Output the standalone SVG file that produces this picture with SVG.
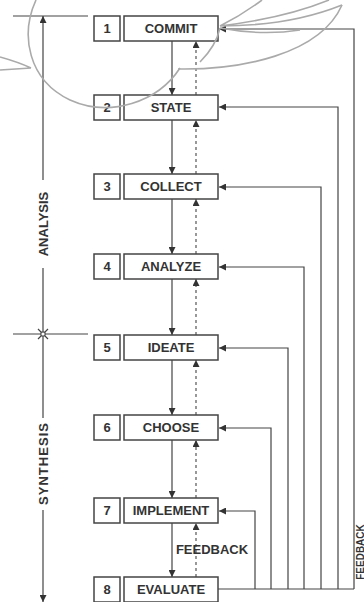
<svg xmlns="http://www.w3.org/2000/svg" width="364" height="602" viewBox="0 0 364 602">
<style>
.box{fill:#fff;stroke:#444;stroke-width:1.5}
.t{font-family:"Liberation Sans",Arial,sans-serif;font-weight:bold;font-size:13px;fill:#333;text-anchor:middle}
.ln{fill:none;stroke:#444;stroke-width:1.2}
.dash{fill:none;stroke:#555;stroke-width:1.2;stroke-dasharray:3,3}
.wm{fill:none;stroke:#aaa;stroke-width:1.6}
</style>
<defs>
<marker id="ah" viewBox="0 0 10 10" refX="10" refY="5" markerWidth="7" markerHeight="7" markerUnits="userSpaceOnUse" orient="auto">
<path d="M0,0 L10,5 L0,10 z" fill="#333"/>
</marker>
</defs>
<rect width="364" height="602" fill="#fff"/>
<g id="connectors">
<path class="ln" marker-end="url(#ah)" d="M172,41 V95"/>
<path class="ln" marker-end="url(#ah)" d="M172,120 V174"/>
<path class="ln" marker-end="url(#ah)" d="M172,199 V254"/>
<path class="ln" marker-end="url(#ah)" d="M172,279 V335"/>
<path class="ln" marker-end="url(#ah)" d="M172,360 V415"/>
<path class="ln" marker-end="url(#ah)" d="M172,440 V498"/>
<path class="ln" marker-end="url(#ah)" d="M172,523 V577"/>
<path class="dash" marker-end="url(#ah)" d="M196,95 V41"/>
<path class="dash" marker-end="url(#ah)" d="M196,174 V120"/>
<path class="dash" marker-end="url(#ah)" d="M196,254 V199"/>
<path class="dash" marker-end="url(#ah)" d="M196,335 V279"/>
<path class="dash" marker-end="url(#ah)" d="M196,415 V360"/>
<path class="dash" marker-end="url(#ah)" d="M196,498 V440"/>
<path class="dash" marker-end="url(#ah)" d="M196,577 V523"/>
<path class="ln" d="M218,589 H354"/>
<path class="ln" marker-end="url(#ah)" d="M354,589 V29 H219"/>
<path class="ln" marker-end="url(#ah)" d="M338,589 V107 H219"/>
<path class="ln" marker-end="url(#ah)" d="M321,589 V187 H219"/>
<path class="ln" marker-end="url(#ah)" d="M304,589 V267 H219"/>
<path class="ln" marker-end="url(#ah)" d="M288,589 V348 H219"/>
<path class="ln" marker-end="url(#ah)" d="M271,589 V428 H219"/>
<path class="ln" marker-end="url(#ah)" d="M255,589 V511 H219"/>
<path class="ln" d="M13,16 H88"/>
<path class="ln" d="M13,334 H88"/>
<path class="ln" marker-end="url(#ah)" d="M43,180 V16"/>
<path class="ln" d="M43,268 V418"/>
<path class="ln" marker-end="url(#ah)" d="M43,510 V602"/>
<path class="ln" stroke-width="1.6" d="M38,329 L48,339 M48,329 L38,339"/>
<circle cx="43" cy="334" r="2.2" fill="#fff" stroke="#555" stroke-width="1.2"/>
</g>
<g id="labels">
<text class="t" transform="translate(47.5,224) rotate(-90)">ANALYSIS</text>
<text class="t" transform="translate(47.5,464) rotate(-90)" textLength="82" lengthAdjust="spacing">SYNTHESIS</text>
<text class="t" x="212" y="554">FEEDBACK</text>
<text class="t" style="font-size:10px" transform="translate(363.5,552) rotate(-90)">FEEDBACK</text>
</g>
<g id="n1"><rect class="box" x="94" y="16" width="26" height="25"/><rect class="box" x="124" y="16" width="94" height="25"/><text class="t" x="107" y="33">1</text><text class="t" x="171" y="33">COMMIT</text></g>
<g id="n2"><rect class="box" x="94" y="95" width="26" height="25"/><rect class="box" x="124" y="95" width="94" height="25"/><text class="t" x="107" y="112">2</text><text class="t" x="171" y="112">STATE</text></g>
<g id="n3"><rect class="box" x="94" y="174" width="26" height="25"/><rect class="box" x="124" y="174" width="94" height="25"/><text class="t" x="107" y="191">3</text><text class="t" x="171" y="191">COLLECT</text></g>
<g id="n4"><rect class="box" x="94" y="254" width="26" height="25"/><rect class="box" x="124" y="254" width="94" height="25"/><text class="t" x="107" y="271">4</text><text class="t" x="171" y="271">ANALYZE</text></g>
<g id="n5"><rect class="box" x="94" y="335" width="26" height="25"/><rect class="box" x="124" y="335" width="94" height="25"/><text class="t" x="107" y="352">5</text><text class="t" x="171" y="352">IDEATE</text></g>
<g id="n6"><rect class="box" x="94" y="415" width="26" height="25"/><rect class="box" x="124" y="415" width="94" height="25"/><text class="t" x="107" y="432">6</text><text class="t" x="171" y="432">CHOOSE</text></g>
<g id="n7"><rect class="box" x="94" y="498" width="26" height="25"/><rect class="box" x="124" y="498" width="94" height="25"/><text class="t" x="107" y="515">7</text><text class="t" x="171" y="515">IMPLEMENT</text></g>
<g id="n8"><rect class="box" x="94" y="577" width="26" height="25"/><rect class="box" x="124" y="577" width="94" height="25"/><text class="t" x="107" y="594">8</text><text class="t" x="171" y="594">EVALUATE</text></g>
<g id="watermark">
<path class="wm" d="M36,0 C20,35 28,80 70,100 C110,118 158,102 180,68"/>
<path class="wm" d="M0,57 Q18,62 31,68 M0,70 L31,68"/>
<path class="wm" d="M178,69 C240,70 320,55 342,5"/>
<path class="wm" d="M220,26 Q242,15 262,0 M220,26 Q285,18 329,0 M220,26 Q290,26 342,5 M220,28 Q262,36 300,30"/>
<path class="wm" d="M200,62 Q216,46 220,28"/>
</g>
</svg>
